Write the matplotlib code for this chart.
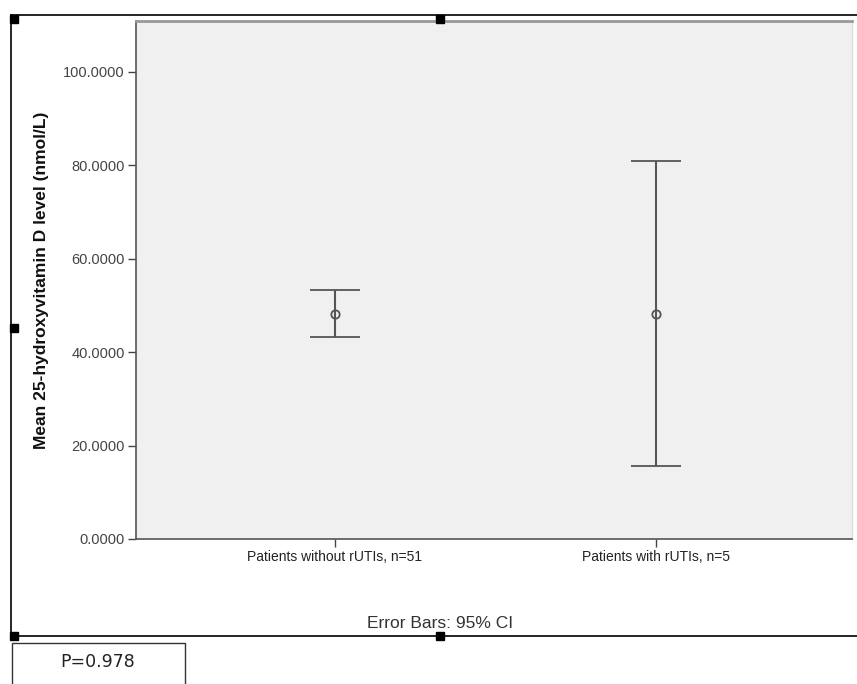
import numpy as np
import matplotlib.pyplot as plt
from matplotlib.patches import Rectangle
from matplotlib.lines import Line2D

groups = ['Patients without rUTIs, n=51', 'Patients with rUTIs, n=5']
means = [48.2, 48.2]
ci_low = [43.3, 15.6]
ci_high = [53.3, 80.9]
yticks = [0, 20, 40, 60, 80, 100]

plt.rcParams['font.family'] = ['Liberation Sans', 'DejaVu Sans']

W, H = 857, 684
fig = plt.figure(figsize=(W / 100, H / 100), dpi=100)

def fx(px):
    return px / W

def fy(py):
    return 1 - py / H

ax = fig.add_axes([fx(136), fy(539), fx(852) - fx(136), fy(21) - fy(539)])
ax.set_facecolor('#f0f0f0')

x = np.arange(len(groups))
m = np.array(means)
err = [m - np.array(ci_low), np.array(ci_high) - m]
ax.errorbar(x, m, yerr=err, fmt='o', color='#555555', ecolor='#555555',
            elinewidth=1.5, capsize=18, capthick=1.5,
            markersize=6, markerfacecolor='none', markeredgewidth=1.3)

ax.set_xlim(-0.618, 1.61)
ax.set_ylim(0, 110.9)
ax.set_xticks(x)
ax.set_xticklabels(groups, fontsize=10, color='#222222')
ax.set_yticks(yticks)
ax.set_yticklabels(['%.4f' % v for v in yticks], fontsize=10.5, color='#444444')
ax.tick_params(axis='both', length=6, width=1, color='#444444', pad=2)
ax.set_ylabel('Mean 25-hydroxyvitamin D level (nmol/L)', fontsize=12.5,
              fontweight='bold', color='#111111', labelpad=10)
for s in ['left', 'bottom']:
    ax.spines[s].set_color('#555555')
    ax.spines[s].set_linewidth(1.2)
ax.spines['top'].set_color('#999999')
ax.spines['top'].set_linewidth(2)
ax.spines['right'].set_color('#dddddd')
ax.spines['right'].set_linewidth(1)

# outer frame
fig.add_artist(Line2D([fx(11), fx(11)], [fy(15), fy(636)], color='black', lw=1.2))
fig.add_artist(Line2D([fx(11), 1], [fy(15), fy(15)], color='black', lw=1.2))
fig.add_artist(Line2D([fx(11), 1], [fy(636), fy(636)], color='black', lw=1.2))

# selection handles
for px, py in [(14, 19), (440, 19), (14, 328), (14, 636), (440, 636)]:
    fig.add_artist(Rectangle((fx(px - 4), fy(py + 4)), fx(8), 8 / H,
                             color='black'))

fig.text(fx(440), fy(624), 'Error Bars: 95% CI', ha='center', va='center',
         fontsize=12.5, color='#333333')

fig.add_artist(Rectangle((fx(12), fy(690)), fx(173), (690 - 643) / H,
                         fill=False, edgecolor='#333333', lw=1))
fig.text(fx(98), fy(662), 'P=0.978', ha='center', va='center',
         fontsize=12.5, color='#222222', family='DejaVu Sans')

plt.savefig('out.png', dpi=100)
